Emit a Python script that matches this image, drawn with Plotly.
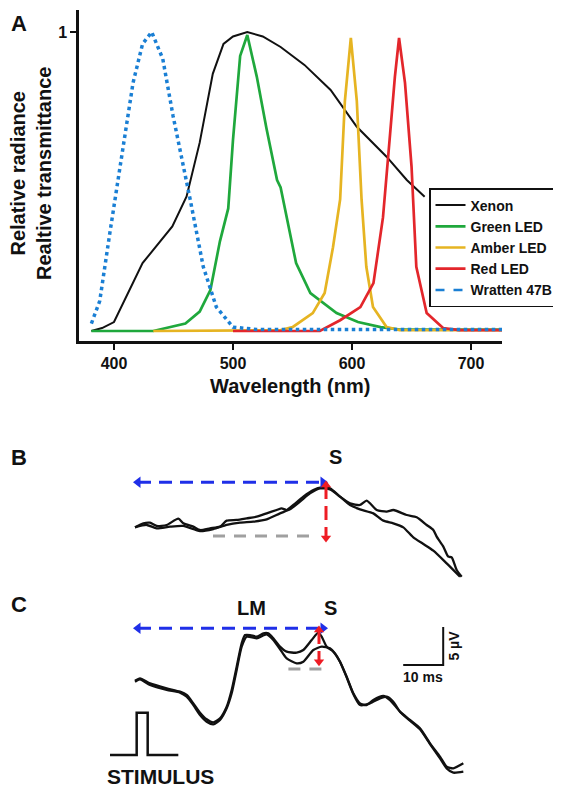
import plotly.graph_objects as go

PAGE_W, PAGE_H = 561, 787
OFF = 8  # default page body margin
W, H = PAGE_W - OFF, PAGE_H - OFF
FONT = "Liberation Sans, Arial, sans-serif"

# ---------------- Panel A data (wavelength nm, relative value) ----------------
xenon_wl = [381, 390, 400, 424, 449, 461, 472, 483, 492, 500, 512, 525, 540, 560, 582, 604, 629, 646, 661]
xenon_val = [0, 0.01, 0.03, 0.227, 0.35, 0.45, 0.63, 0.86, 0.96, 0.985, 1.0, 0.985, 0.95, 0.89, 0.806, 0.683, 0.583, 0.505, 0.449]

green_wl = [381, 433, 460, 472, 481, 489, 496, 500, 506, 512, 520, 528, 537, 540, 553, 565, 587, 605, 624, 640, 726]
green_val = [0, 0, 0.025, 0.065, 0.137, 0.30, 0.41, 0.64, 0.92, 0.99, 0.85, 0.68, 0.505, 0.48, 0.227, 0.127, 0.06, 0.03, 0.013, 0.005, 0.005]

amber_wl = [433, 540, 550, 567, 577, 584, 590, 594, 599, 604, 608, 612, 617.6, 629, 640, 726]
amber_val = [0, 0.003, 0.013, 0.06, 0.127, 0.28, 0.44, 0.77, 0.98, 0.77, 0.44, 0.215, 0.08, 0.013, 0.003, 0.003]

red_wl = [500, 573, 590, 607, 618, 626, 632, 636, 639.5, 644.5, 650, 654, 662.7, 676.5, 690, 726]
red_val = [0, 0, 0.036, 0.08, 0.16, 0.38, 0.66, 0.85, 0.98, 0.83, 0.55, 0.215, 0.06, 0.01, 0.003, 0.003]

wratten_wl = [381, 388, 396.6, 405, 416, 424, 431.7, 441, 449.6, 464, 475, 486, 500, 520, 726]
wratten_val = [0.025, 0.10, 0.33, 0.55, 0.83, 0.96, 1.0, 0.91, 0.72, 0.44, 0.215, 0.08, 0.013, 0.005, 0.005]

x_ticks = [400, 500, 600, 700]

# ---------------- Panel B data (time ms, amplitude µV) ----------------
b1_t = [8.75, 10.83, 12.5, 14.17, 16.67, 19.58, 20.83, 23.33, 25, 27.5, 30, 31.67, 34.17, 36.67, 39.17, 41.67,
        44.17, 45.42, 46.67, 48.33, 50.83, 53.33, 55.42, 57.5, 60, 62.5, 65, 66.67, 69.17, 71.67, 73.33, 76.67,
        79.17, 81.67, 83.33, 84.17, 85.83, 87.08, 87.92, 89.17, 90.42]
b1_v = [1.14, 1.67, 1.75, 1.32, 1.45, 2.28, 1.67, 1.23, 0.79, 1.01, 1.23, 2.02, 2.11, 2.32, 2.54, 2.98,
        3.42, 3.64, 3.42, 4.08, 5.18, 6.05, 6.40, 6.27, 5.18, 4.30, 4.08, 4.65, 3.42, 3.20, 3.42, 2.76,
        2.46, 1.45, 0.79, -0.09, -1.40, -2.72, -2.81, -4.47, -5.35]
b2_t = [8.75, 11.67, 14.17, 17.5, 20.83, 25, 28.33, 31.67, 35, 38.33, 41.67, 45, 47.5, 50, 52.5, 55, 57.5,
        60, 62.5, 65, 68.33, 70.83, 73.33, 75.83, 78.33, 80.83, 83.33, 86.67, 90]
b2_v = [1.14, 1.45, 1.01, 1.23, 1.32, 0.66, 0.92, 1.45, 1.75, 1.89, 2.19, 2.98, 3.51, 4.52, 5.61, 6.27, 6.14,
        5.18, 4.08, 3.51, 2.98, 2.02, 1.67, 1.14, -0.18, -1.05, -1.93, -3.6, -5.35]

# ---------------- Panel C data (time ms, amplitude µV) ----------------
c1_t = [8.75, 10, 12.5, 16.67, 20, 21.67, 23.33, 25, 26.67, 28.33, 30, 31.67, 32.92, 34.17, 35.42, 36.25, 37.5,
        39.17, 40.83, 42.08, 43.33, 45, 46.67, 49.17, 50.83, 52.92, 54.58, 55.42, 56.67, 58.33, 60, 61.67, 63.33,
        65, 66.67, 68.33, 70.83, 72.5, 75, 77.5, 80, 82.5, 85, 86.67, 88.33, 90.83]
c1_v = [-1.54, -1.23, -1.89, -2.54, -2.98, -3.42, -4.52, -5.75, -6.62, -7.02, -6.49, -4.96, -2.76, 0.31, 3.38,
        4.47, 4.47, 4.25, 4.69, 4.69, 4.04, 2.94, 2.28, 2.15, 2.50, 3.82, 4.78, 4.25, 2.94, 2.28, 0.96, -1.01,
        -3.20, -4.52, -4.74, -4.08, -3.55, -4.08, -5.61, -6.71, -7.81, -9.78, -11.54, -12.85, -13.07, -12.41]
c2_t = [8.75, 10, 12.5, 16.67, 20, 21.67, 23.33, 25, 26.67, 28.33, 30, 31.67, 32.92, 34.17, 35.42, 36.67, 39.17,
        41.67, 43.33, 45.42, 46.67, 49.17, 50.83, 53.33, 55.42, 57.5, 58.75, 60, 61.67, 63.33, 65, 67.5, 70,
        71.67, 73.33, 75, 77.5, 80, 82.5, 85, 86.67, 88.33, 90.83]
c2_v = [-1.67, -1.36, -2.11, -2.76, -3.11, -3.64, -4.74, -6.05, -6.93, -7.28, -6.71, -5.18, -3.20, -0.13, 2.94,
        4.25, 4.04, 4.56, 3.82, 2.28, 1.40, 0.75, 0.96, 2.50, 2.94, 2.72, 2.06, 0.96, -1.10, -3.29, -4.74, -4.52,
        -3.86, -3.64, -4.30, -5.61, -6.80, -7.94, -9.87, -11.75, -13.07, -13.64, -13.51]

# stimulus pulse (ms, level)
stim_t = [2.5, 9.17, 9.17, 11.92, 11.92, 19.58]
stim_v = [-11.3, -11.3, -5.75, -5.75, -11.3, -11.3]

# latency / amplitude markers
B_lat = [9.5, 55.75]; B_lat_level = 7.07
B_amp_t = 56.5; B_amp = [6.7, -0.26]
B_base = [28.25, 54.5]
C_lat = [9.5, 55.75]; C_lat_level = 5.35
C_amp_t = 54.75; C_amp = [5.13, 0.96]
C_base = [47.1, 56.5]

# scale bar
SB_corner_t, SB_corner_v = 85.8, 0.53
SB_ms, SB_uv = 10, 5

# ---------------- layout geometry (page pixels -> paper fractions) ----------------
def fx(px):
    return (px - OFF) / W

def fy(py):
    return 1 - (py - OFF) / H

fig = go.Figure()

BLACK = "#111111"
GREEN = "#1fa83c"
AMBER = "#e6b422"
RED = "#e3262b"
BLUE = "#1a7fd4"

fig.add_trace(go.Scatter(x=xenon_wl, y=xenon_val, mode="lines", name="<b>Xenon</b>",
                         line=dict(color=BLACK, width=2)))
fig.add_trace(go.Scatter(x=green_wl, y=green_val, mode="lines", name="<b>Green LED</b>",
                         line=dict(color=GREEN, width=2.7)))
fig.add_trace(go.Scatter(x=amber_wl, y=amber_val, mode="lines", name="<b>Amber LED</b>",
                         line=dict(color=AMBER, width=2.7)))
fig.add_trace(go.Scatter(x=red_wl, y=red_val, mode="lines", name="<b>Red LED</b>",
                         line=dict(color=RED, width=2.7)))
fig.add_trace(go.Scatter(x=wratten_wl, y=wratten_val, mode="lines", showlegend=False,
                         line=dict(color=BLUE, width=3.5, dash="dot")))
fig.add_trace(go.Scatter(x=[None], y=[None], mode="lines", name="<b>Wratten 47B</b>",
                         line=dict(color=BLUE, width=2.5, dash="dash")))

# Panel B
for t, v in [(b1_t, b1_v), (b2_t, b2_v)]:
    fig.add_trace(go.Scatter(x=t, y=v, mode="lines", xaxis="x2", yaxis="y2", showlegend=False,
                             line=dict(color=BLACK, width=2.3, shape="spline", smoothing=0.6)))
# Panel C
for t, v in [(c1_t, c1_v), (c2_t, c2_v)]:
    fig.add_trace(go.Scatter(x=t, y=v, mode="lines", xaxis="x3", yaxis="y3", showlegend=False,
                             line=dict(color=BLACK, width=2.3, shape="spline", smoothing=0.6)))
fig.add_trace(go.Scatter(x=stim_t, y=stim_v, mode="lines", xaxis="x3", yaxis="y3", showlegend=False,
                         line=dict(color=BLACK, width=2.5)))
# scale bar
fig.add_trace(go.Scatter(x=[SB_corner_t - SB_ms, SB_corner_t, SB_corner_t],
                         y=[SB_corner_v, SB_corner_v, SB_corner_v + SB_uv],
                         mode="lines", xaxis="x3", yaxis="y3", showlegend=False,
                         line=dict(color=BLACK, width=2)))

def markers(xa, ya, lat, lat_level, amp_t, amp, base, base_level=0):
    fig.add_trace(go.Scatter(x=base, y=[base_level, base_level], mode="lines", xaxis=xa, yaxis=ya,
                             showlegend=False, line=dict(color="#a0a0a0", width=3, dash="12px,9px")))
    fig.add_trace(go.Scatter(x=lat, y=[lat_level, lat_level], mode="lines", xaxis=xa, yaxis=ya,
                             showlegend=False, line=dict(color="#1f2fe8", width=3, dash="13px,8px")))
    fig.add_trace(go.Scatter(x=lat, y=[lat_level, lat_level], mode="markers", xaxis=xa, yaxis=ya,
                             showlegend=False,
                             marker=dict(symbol=["triangle-left", "triangle-right"], size=10, color="#1f2fe8")))
    fig.add_trace(go.Scatter(x=[amp_t, amp_t], y=amp, mode="lines", xaxis=xa, yaxis=ya,
                             showlegend=False, line=dict(color="#ee1c24", width=3, dash="14px,7px")))
    fig.add_trace(go.Scatter(x=[amp_t, amp_t], y=amp, mode="markers", xaxis=xa, yaxis=ya,
                             showlegend=False,
                             marker=dict(symbol=["triangle-up", "triangle-down"], size=9, color="#ee1c24")))

markers("x2", "y2", B_lat, B_lat_level, B_amp_t, B_amp, B_base)
markers("x3", "y3", C_lat, C_lat_level, C_amp_t, C_amp, C_base)

t_range = [(OFF - 100) / 4, (OFF + W - 100) / 4]
hidden = dict(visible=False, showgrid=False, zeroline=False)

fig.update_layout(
    width=W, height=H, margin=dict(l=0, r=0, t=0, b=0),
    paper_bgcolor="white", plot_bgcolor="white",
    font=dict(family=FONT, color=BLACK),
    xaxis=dict(domain=[fx(79), fx(502)], range=[370.6, 726], showgrid=False, zeroline=False,
               showline=True, linecolor=BLACK, linewidth=2.5, ticks="outside", ticklen=6, tickwidth=2,
               tickcolor=BLACK, tickvals=x_ticks, ticktext=[f"<b>{v}</b>" for v in x_ticks],
               tickfont=dict(size=16, family=FONT, color=BLACK)),
    yaxis=dict(domain=[fy(341), fy(10)], range=[-0.0334, 1.0736], showgrid=False, zeroline=False,
               showline=True, linecolor=BLACK, linewidth=2.5, ticks="outside", ticklen=6, tickwidth=2,
               tickcolor=BLACK, tickvals=[1], ticktext=["<b>1</b>"],
               tickfont=dict(size=16, family=FONT, color=BLACK)),
    xaxis2=dict(domain=[0, 1], range=t_range, anchor="y2", **hidden),
    yaxis2=dict(domain=[fy(598), fy(440)], range=[(536 - 598) / 7.6, (536 - 440) / 7.6], anchor="x2", **hidden),
    xaxis3=dict(domain=[0, 1], range=t_range, anchor="y3", **hidden),
    yaxis3=dict(domain=[0, fy(598)], range=[(669 - PAGE_H) / 7.6, (669 - 598) / 7.6], anchor="x3", **hidden),
    legend=dict(x=fx(429), y=fy(188), xanchor="left", yanchor="top", bordercolor=BLACK, borderwidth=1.5,
                bgcolor="white", font=dict(size=14, family=FONT, color=BLACK), tracegroupgap=0,
                itemwidth=30),
)

ann = []
def label(text, x, y, size, xref="paper", yref="paper", angle=0, xanchor="center", yanchor="middle"):
    ann.append(dict(text=text, x=x, y=y, xref=xref, yref=yref, showarrow=False, textangle=angle,
                    font=dict(size=size, family=FONT, color=BLACK), xanchor=xanchor, yanchor=yanchor))

label("<b>A</b>", fx(19), fy(23), 22)
label("<b>B</b>", fx(19), fy(458), 22)
label("<b>C</b>", fx(19), fy(604), 22)
label("<b>Relative radiance<br>Realtive transmittance</b>", fx(31), fy(174), 20, angle=-90)
label("<b>Wavelength (nm)</b>", fx(290), fy(386), 20)
label("<b>S</b>", 58.75, 10.4, 20, "x2", "y2")
label("<b>LM</b>", 37.9, 7.98, 20, "x3", "y3")
label("<b>S</b>", 57.5, 7.98, 20, "x3", "y3")
label("<b>10 ms</b>", SB_corner_t - SB_ms / 2, -1.1, 14, "x3", "y3")
label("<b>5 µV</b>", 88.4, SB_corner_v + SB_uv / 2, 14, "x3", "y3", angle=-90)
label("<b>STIMULUS</b>", 15.2, -14.2, 21, "x3", "y3")
fig.update_layout(annotations=ann)

fig.write_html("out.html")
